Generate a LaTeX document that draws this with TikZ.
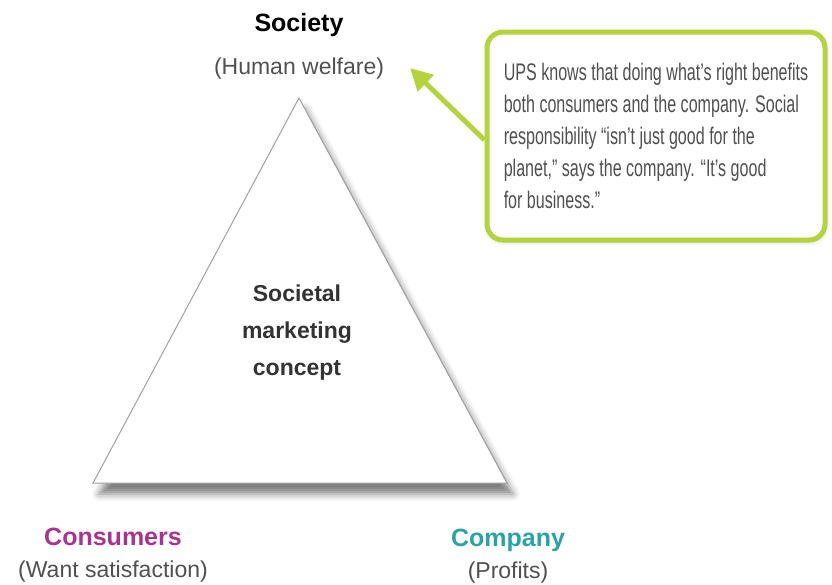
\documentclass[tikz,border=0pt]{standalone}
\usepackage{fontspec}
\setmainfont{Liberation Sans}
\newfontfamily\narrowfont[FakeStretch=0.67]{Liberation Sans}
\usetikzlibrary{shapes, arrows.meta, positioning, shadows.blur}
\definecolor{lime}{RGB}{181,211,60}
\definecolor{consumer}{RGB}{168,52,142}
\definecolor{company}{RGB}{42,163,165}
\definecolor{textgray}{RGB}{80,80,80}
\definecolor{edgegray}{RGB}{160,160,160}

\begin{document}
\begin{tikzpicture}[x=1pt, y=-1pt]
		% Define elements
		\tikzstyle{head} = [font = \fontsize{25}{28}\selectfont\bfseries, inner sep=0pt, text height=18pt, text depth=5pt]
		\tikzstyle{sub} = [font = \fontsize{23}{26}\selectfont, text=textgray, inner sep=0pt, text height=17pt, text depth=5pt]
		\tikzstyle{line} = [draw=lime, line width=5pt, -{Triangle[length=22pt, width=22pt]}]
		\tikzstyle{callout} = [rectangle, draw=lime, line width=5pt, rounded corners=16pt, fill=white,
		    align=left, inner xsep=14pt, text=textgray, font = \narrowfont\fontsize{24}{32}\selectfont,
		    blur shadow={shadow xshift=1pt, shadow yshift=-2pt, shadow blur radius=4pt, shadow opacity=20}]
		\tikzstyle{tri} = [draw=edgegray, line width=1pt, fill=white,
		    blur shadow={shadow xshift=6pt, shadow yshift=-11pt, shadow blur radius=7pt, shadow opacity=50}]
		\useasboundingbox (0,0) rectangle (832,584);

		%% Triangle
		\coordinate (apex) at (299,98);
		\coordinate (left) at (93,483);
		\coordinate (right) at (507,483);
		\path [tri] (apex) -- (left) -- (right) -- cycle;
		\node [name = concept, align = center, text = black!80,
			font = \fontsize{23}{37}\selectfont\bfseries] at (297,333) {Societal\\marketing\\concept};

		%% Corners
		\node [name = soc, head, anchor = base] at (299,31) {Society};
		\node [name = socsub, sub, below = 21pt of soc] {(Human welfare)};
		\node [name = cons, head, text = consumer, anchor = base] at (113,545) {Consumers};
		\node [name = conssub, sub, below = 10pt of cons] {(Want satisfaction)};
		\node [name = comp, head, text = company, anchor = base] at (508,546) {Company};
		\node [name = compsub, sub, below = 10pt of comp] {(Profits)};

		%% Callout
		\node [name = ups, callout, minimum width=338pt, minimum height=208pt] at (656,136)
			{UPS knows that doing what’s right benefits\\
			 both consumers and the company. Social\\
			 responsibility “isn’t just good for the\\
			 planet,” says the company. “It’s good\\
			 for business.”};
		\coordinate (tip) at (410,68);
	% arrows
		\path [line] ([yshift=-4pt]ups.west) -- (tip);
	\end{tikzpicture}
\end{document}
